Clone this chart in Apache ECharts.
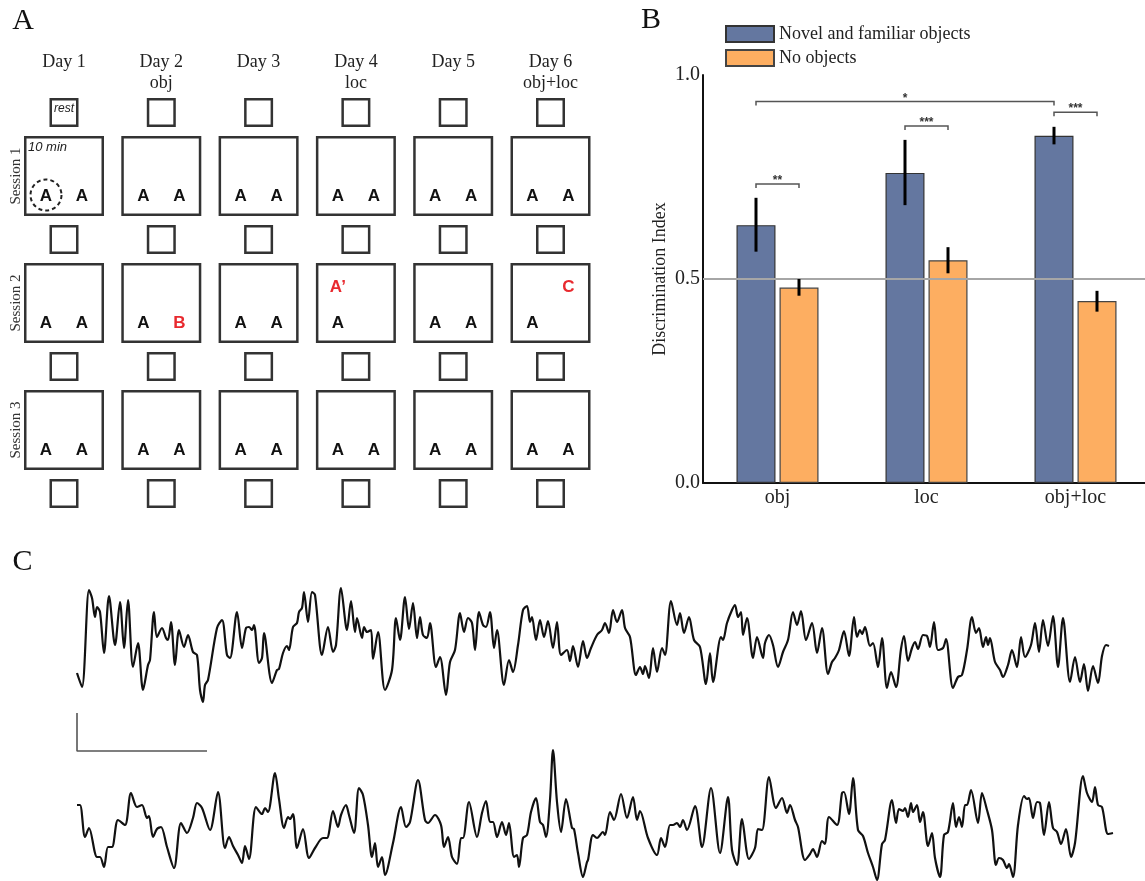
<!DOCTYPE html>
<html>
<head>
<meta charset="utf-8">
<style>html,body{margin:0;padding:0;background:#fff}#chart{width:1145px;height:881px}</style>
<script src="https://cdn.jsdelivr.net/npm/echarts@6/dist/echarts.min.js"></script>
</head>
<body>
<div id="chart"></div>
<script>
// ---------- Panel A: protocol schematic ----------
const days = ['Day 1', 'Day 2', 'Day 3', 'Day 4', 'Day 5', 'Day 6'];
const dayTasks = ['', 'obj', '', 'loc', '', 'obj+loc'];
const sessions = ['Session 1', 'Session 2', 'Session 3'];
const restBoxesPerDay = 4;
const familiarObject = 'A';
const novelObjects = [
  { day: 'Day 2', session: 'Session 2', letter: 'B', slot: 'right' },
  { day: 'Day 4', session: 'Session 2', letter: 'A\u2019', slot: 'topLeft' },
  { day: 'Day 6', session: 'Session 2', letter: 'C', slot: 'topRight' }
];
const restLabel = 'rest';
const sessionDuration = '10 min';

// ---------- Panel B: discrimination index ----------
const conditions = ['obj', 'loc', 'obj+loc'];
const seriesNames = ['Novel and familiar objects', 'No objects'];
const objectsMean = [0.632, 0.760, 0.851];
const noObjectsMean = [0.479, 0.546, 0.446];
const objectsErr = [[0.567, 0.699], [0.681, 0.841], [0.830, 0.873]];
const noObjectsErr = [[0.459, 0.500], [0.514, 0.578], [0.420, 0.471]];
const chanceLevel = 0.5;
const yTicks = [0, 0.5, 1.0];
const sigBrackets = [
  { from: [0, 0], to: [0, 1], y: 0.733, label: '**' },
  { from: [1, 0], to: [1, 1], y: 0.875, label: '***' },
  { from: [2, 0], to: [2, 1], y: 0.909, label: '***' },
  { from: [0, 0], to: [2, 0], y: 0.935, label: '*' }
];

// ---------- Panel C: example traces [time, amplitude] ----------
const trace1 = [[0,-28],[5,-42],[12,55],[15,47],[18,28],[20,38],[23,33],[27,-8],[32,49],[38,0],[43,43],[47,-3],[51,45],[56,-22],[61,2],[66,-45],[71,-20],[73,-15],[77,33],[80,8],[85,17],[89,7],[91,5],[94,23],[98,-20],[102,15],[107,-2],[111,10],[116,-7],[120,-10],[123,-45],[126,-57],[128,-40],[131,-35],[140,17],[145,25],[150,-10],[153,-13],[160,33],[165,-3],[169,17],[172,18],[175,15],[177,20],[182,-18],[185,-13],[187,12],[195,-38],[200,-25],[202,-24],[206,-8],[210,-1],[212,-5],[216,18],[220,22],[222,33],[225,37],[227,53],[231,23],[235,53],[238,50],[245,-10],[251,18],[256,-7],[259,0],[264,57],[270,15],[274,44],[278,13],[280,27],[285,7],[287,18],[290,13],[294,15],[296,-14],[301,13],[308,-45],[315,-25],[319,27],[323,5],[328,48],[332,16],[336,42],[340,7],[343,28],[346,10],[350,7],[353,22],[359,-22],[363,-12],[369,-50],[373,-17],[378,-5],[383,32],[387,13],[391,27],[395,22],[398,-5],[402,33],[406,20],[409,18],[413,33],[417,-3],[420,15],[427,-40],[432,-15],[436,-27],[441,0],[446,35],[450,39],[453,23],[455,28],[459,5],[463,25],[467,8],[471,24],[476,-3],[480,23],[484,-10],[490,-5],[493,-16],[496,-1],[501,-22],[506,4],[510,-13],[514,-3],[520,10],[525,15],[528,22],[532,12],[536,35],[540,23],[545,35],[548,17],[553,8],[559,-30],[563,-22],[566,-29],[568,-21],[572,-33],[576,-3],[580,-27],[585,-3],[588,-10],[594,44],[600,20],[603,32],[607,12],[612,28],[617,5],[623,-2],[629,-39],[633,-8],[636,-37],[644,8],[646,5],[650,22],[655,35],[658,40],[661,28],[664,33],[666,10],[670,27],[676,-13],[680,8],[686,-13],[688,2],[692,10],[696,0],[701,-22],[706,-7],[711,5],[716,33],[720,20],[724,34],[729,5],[735,22],[740,-8],[745,17],[751,-29],[755,-17],[758,-13],[762,-5],[767,14],[772,-11],[777,28],[780,8],[783,15],[785,11],[788,18],[793,-1],[796,2],[801,-22],[805,7],[810,-43],[814,-27],[819,-42],[824,-4],[827,9],[831,-16],[835,-3],[838,3],[841,-4],[846,10],[850,9],[853,-2],[857,23],[861,-5],[866,-3],[869,6],[876,-43],[881,-32],[885,-30],[890,-5],[895,28],[899,12],[902,17],[906,-2],[909,8],[911,0],[913,7],[918,-17],[923,-25],[926,-32],[931,-20],[935,-5],[940,-22],[944,8],[948,-12],[954,0],[958,22],[962,-7],[966,25],[971,-1],[976,29],[981,-22],[986,27],[993,-37],[998,-12],[1003,-37],[1007,-19],[1011,-46],[1016,-21],[1021,-38],[1025,-11],[1029,0],[1032,-1]];
const trace2 = [[0,20],[3,20],[8,-12],[12,-3],[20,-32],[23,-32],[27,-42],[31,-22],[35,-22],[41,5],[48,0],[54,32],[60,18],[65,20],[70,7],[72,9],[76,-12],[80,-4],[84,-2],[90,-22],[97,-43],[104,2],[110,-8],[116,7],[120,22],[125,17],[133,-5],[141,33],[148,-23],[152,-12],[156,-21],[161,-30],[165,-38],[168,-21],[172,-34],[179,18],[185,11],[188,17],[191,13],[198,52],[202,26],[207,-3],[211,8],[213,6],[216,11],[220,-23],[226,-4],[232,-33],[238,-23],[246,-13],[250,-13],[256,14],[261,-2],[264,10],[269,20],[272,10],[277,-8],[282,37],[286,30],[291,0],[295,-32],[298,-18],[301,-42],[305,-32],[308,-50],[316,-18],[324,18],[329,-2],[333,3],[341,45],[348,5],[351,2],[358,10],[364,0],[367,-22],[371,-12],[375,-32],[380,-39],[384,-13],[386,-13],[392,23],[400,-12],[405,12],[409,24],[413,3],[416,3],[420,-12],[425,3],[429,-10],[432,2],[437,-32],[440,-30],[442,-42],[446,-13],[450,-10],[454,13],[459,27],[463,3],[466,0],[469,-12],[473,25],[476,75],[480,23],[484,-7],[489,26],[495,-3],[497,-4],[501,-28],[506,-52],[510,-37],[511,-35],[516,-10],[520,-13],[526,-7],[528,-10],[533,13],[537,5],[544,31],[550,7],[556,28],[560,5],[563,14],[571,-13],[580,-30],[584,-13],[588,-22],[593,0],[596,0],[600,2],[603,-2],[606,5],[610,-5],[618,19],[625,-22],[634,37],[643,-28],[651,28],[655,-25],[660,-40],[665,6],[672,-34],[678,-23],[681,-4],[685,-5],[692,48],[699,17],[705,27],[710,12],[713,20],[718,5],[721,-2],[728,-35],[733,-29],[736,-24],[740,-32],[745,-16],[748,-19],[752,8],[760,0],[765,32],[767,33],[772,11],[776,47],[781,-5],[786,-11],[791,-28],[796,-42],[800,-55],[805,-19],[808,-15],[815,25],[819,2],[822,16],[826,14],[828,17],[831,8],[834,22],[836,13],[840,20],[843,3],[846,13],[851,-21],[855,-8],[858,-33],[863,-52],[867,-10],[871,-7],[876,22],[879,-2],[882,8],[885,-2],[888,20],[890,20],[894,35],[901,2],[905,32],[910,15],[915,-5],[919,-40],[922,-33],[926,-35],[930,-43],[932,-39],[936,-52],[941,0],[947,29],[950,26],[952,27],[956,7],[960,23],[963,22],[967,-10],[972,23],[976,-3],[980,-7],[984,-19],[989,-4],[994,-32],[998,-18],[1006,49],[1010,32],[1015,23],[1018,38],[1021,20],[1025,18],[1031,-9],[1036,-8]];
const scaleBarTime = [0, 0, 130];
const scaleBarAmp = [-68, -106, -106];

// ---------- build tables ----------
const SERIF = "'Liberation Serif', 'Times New Roman', serif";
const SANS = "'Liberation Sans', Arial, sans-serif";
const STROKE = '#333';

const boxItems = [];
days.forEach((d, di) => {
  for (let r = 0; r < restBoxesPerDay; r++) boxItems.push([di, r, 0]);
  sessions.forEach((s, si) => boxItems.push([di, si + 0.5, 1]));
});

const letterItems = [];
days.forEach((d, di) => {
  sessions.forEach((s, si) => {
    const nov = novelObjects.find(n => n.day === d && n.session === s);
    letterItems.push({ day: di, row: si + 0.5, letter: familiarObject, slot: 'left', novel: false });
    if (nov) letterItems.push({ day: di, row: si + 0.5, letter: nov.letter, slot: nov.slot, novel: true });
    else letterItems.push({ day: di, row: si + 0.5, letter: familiarObject, slot: 'right', novel: false });
  });
});
const slotOffset = { left: [-18, 20], right: [18, 20], topLeft: [-18, -16], topRight: [18, -16] };

const errItems = [];
objectsErr.forEach((e, i) => errItems.push([i, 0, e[0], e[1]]));
noObjectsErr.forEach((e, i) => errItems.push([i, 1, e[0], e[1]]));
const BAR_OFFSET = 21.5;

const chart = echarts.init(document.getElementById('chart'), null, { renderer: 'canvas' });

const option = {
  backgroundColor: '#ffffff',
  animation: false,
  graphic: [
    { type: 'text', x: 23, y: 21, style: { text: 'A', font: '30px ' + SERIF, fill: '#111', align: 'center', verticalAlign: 'middle' } },
    { type: 'text', x: 651, y: 20, style: { text: 'B', font: '30px ' + SERIF, fill: '#111', align: 'center', verticalAlign: 'middle' } },
    { type: 'text', x: 22.5, y: 562, style: { text: 'C', font: '30px ' + SERIF, fill: '#111', align: 'center', verticalAlign: 'middle' } }
  ],
  legend: {
    left: 725, top: 25, orient: 'vertical', itemWidth: 48, itemHeight: 16, itemGap: 6, padding: 0,
    icon: 'rect', data: seriesNames, selectedMode: false,
    textStyle: { fontFamily: SERIF, fontSize: 18, color: '#222' }
  },
  grid: [
    { left: 15.35, top: 49, width: 583.8, height: 508, outerBoundsMode: 'none' },
    { left: 703, top: 75, width: 447, height: 408, outerBoundsMode: 'none' },
    { left: 77, top: 575, width: 1040, height: 180, outerBoundsMode: 'none' },
    { left: 77, top: 745, width: 1040, height: 160, outerBoundsMode: 'none' }
  ],
  xAxis: [
    { gridIndex: 0, type: 'value', min: -0.5, max: 5.5, show: false },
    { gridIndex: 1, type: 'category', data: conditions,
      axisLine: { show: true, lineStyle: { color: '#111', width: 2 } },
      axisTick: { show: false },
      axisLabel: { fontFamily: SERIF, fontSize: 20, color: '#222', margin: 5 },
      splitLine: { show: false } },
    { gridIndex: 2, type: 'value', min: 0, max: 1040, show: false },
    { gridIndex: 3, type: 'value', min: 0, max: 1040, show: false }
  ],
  yAxis: [
    { gridIndex: 0, type: 'value', min: -0.5, max: 3.5, inverse: true, show: false },
    { gridIndex: 1, type: 'value', min: yTicks[0], max: yTicks[yTicks.length - 1], interval: yTicks[1] - yTicks[0],
      name: 'Discrimination Index', nameLocation: 'middle', nameGap: 34,
      nameTextStyle: { fontFamily: SERIF, fontSize: 18, color: '#222' },
      axisLine: { show: true, lineStyle: { color: '#111', width: 2 } },
      axisTick: { show: false },
      axisLabel: { fontFamily: SERIF, fontSize: 20, color: '#222', margin: 3, formatter: v => v.toFixed(1) },
      splitLine: { show: false } },
    { gridIndex: 2, type: 'value', min: -110, max: 70, show: false },
    { gridIndex: 3, type: 'value', min: -80, max: 80, show: false }
  ],
  series: [
    {
      type: 'custom', xAxisIndex: 0, yAxisIndex: 0, silent: true, data: boxItems,
      renderItem: (params, api) => {
        const c = api.coord([api.value(0), api.value(1)]);
        const sz = api.value(2) ? 77.5 : 26.5;
        return { type: 'rect', shape: { x: c[0] - sz / 2, y: c[1] - sz / 2, width: sz, height: sz },
          style: { fill: 'none', stroke: STROKE, lineWidth: 2.5 } };
      }
    },
    {
      type: 'custom', xAxisIndex: 0, yAxisIndex: 0, silent: true,
      data: letterItems.map(it => [it.day, it.row]),
      renderItem: (params, api) => {
        const it = letterItems[params.dataIndex];
        const c = api.coord([api.value(0), api.value(1)]);
        const o = slotOffset[it.slot];
        return { type: 'text', x: c[0] + o[0], y: c[1] + o[1],
          style: { text: it.letter, font: 'bold 17px ' + SANS, fill: it.novel ? '#e8292e' : '#111', align: 'center', verticalAlign: 'middle' } };
      }
    },
    {
      type: 'custom', xAxisIndex: 0, yAxisIndex: 0, silent: true,
      data: [[0, 0], [0, 0.5]],
      renderItem: (params, api) => {
        const c = api.coord([api.value(0), api.value(1)]);
        if (params.dataIndex === 0) {
          return { type: 'text', x: c[0], y: c[1] - 4,
            style: { text: restLabel, font: 'italic 12px ' + SANS, fill: '#222', align: 'center', verticalAlign: 'middle' } };
        }
        const o = slotOffset.left;
        return { type: 'group', children: [
          { type: 'text', x: c[0] - 36, y: c[1] - 29,
            style: { text: sessionDuration, font: 'italic 13px ' + SANS, fill: '#222', align: 'left', verticalAlign: 'middle' } },
          { type: 'circle', shape: { cx: c[0] + o[0], cy: c[1] + o[1] - 1, r: 15.5 },
            style: { fill: 'none', stroke: '#222', lineWidth: 2, lineDash: [4, 3] } }
        ] };
      }
    },
    {
      type: 'custom', xAxisIndex: 0, yAxisIndex: 0, silent: true,
      data: days.map((d, i) => [i]),
      renderItem: (params, api) => {
        const i = params.dataIndex;
        const c1 = api.coord([i, -0.394]);
        const c2 = api.coord([i, -0.228]);
        return { type: 'group', children: [
          { type: 'text', x: c1[0], y: c1[1], style: { text: days[i], font: '18px ' + SERIF, fill: '#222', align: 'center', verticalAlign: 'middle' } },
          { type: 'text', x: c2[0], y: c2[1], style: { text: dayTasks[i], font: '18px ' + SERIF, fill: '#222', align: 'center', verticalAlign: 'middle' } }
        ] };
      }
    },
    {
      type: 'custom', xAxisIndex: 0, yAxisIndex: 0, silent: true,
      data: sessions.map((s, i) => [-0.5, i + 0.5]),
      renderItem: (params, api) => {
        const c = api.coord([api.value(0), api.value(1)]);
        return { type: 'text', x: c[0] + 1, y: c[1], rotation: Math.PI / 2,
          style: { text: sessions[params.dataIndex], font: '15px ' + SERIF, fill: '#333', align: 'center', verticalAlign: 'middle' } };
      }
    },
    {
      name: seriesNames[0], type: 'bar', xAxisIndex: 1, yAxisIndex: 1, data: objectsMean,
      barWidth: 39, barGap: '10.3%',
      itemStyle: { color: '#6477a0', borderColor: '#333', borderWidth: 1.2 }
    },
    {
      name: seriesNames[1], type: 'bar', xAxisIndex: 1, yAxisIndex: 1, data: noObjectsMean,
      barWidth: 39, barGap: '10.3%',
      itemStyle: { color: '#fdae61', borderColor: '#444', borderWidth: 1.2 },
      markLine: { silent: true, symbol: 'none', label: { show: false },
        lineStyle: { color: '#a6a6a6', width: 2, type: 'solid' },
        data: [{ yAxis: chanceLevel }] }
    },
    {
      type: 'custom', xAxisIndex: 1, yAxisIndex: 1, silent: true, z: 5, data: errItems,
      renderItem: (params, api) => {
        const lo = api.coord([api.value(0), api.value(2)]);
        const hi = api.coord([api.value(0), api.value(3)]);
        const x = lo[0] + (api.value(1) ? BAR_OFFSET : -BAR_OFFSET);
        return { type: 'line', shape: { x1: x, y1: lo[1], x2: x, y2: hi[1] }, style: { stroke: '#000', lineWidth: 3 } };
      }
    },
    {
      type: 'custom', xAxisIndex: 1, yAxisIndex: 1, silent: true, z: 5,
      data: sigBrackets.map(b => [b.from[0], b.to[0], b.y]),
      renderItem: (params, api) => {
        const b = sigBrackets[params.dataIndex];
        const p1 = api.coord([b.from[0], b.y]);
        const p2 = api.coord([b.to[0], b.y]);
        const x1 = p1[0] + (b.from[1] ? BAR_OFFSET : -BAR_OFFSET);
        const x2 = p2[0] + (b.to[1] ? BAR_OFFSET : -BAR_OFFSET);
        const y = p1[1];
        return { type: 'group', children: [
          { type: 'polyline', shape: { points: [[x1, y + 4], [x1, y], [x2, y], [x2, y + 4]] },
            style: { fill: 'none', stroke: '#555', lineWidth: 1.5 } },
          { type: 'text', x: (x1 + x2) / 2, y: y - 3,
            style: { text: b.label, font: 'bold 12px ' + SANS, fill: '#333', align: 'center', verticalAlign: 'middle' } }
        ] };
      }
    },
    {
      type: 'line', xAxisIndex: 2, yAxisIndex: 2, data: trace1, showSymbol: false, smooth: 0.3,
      lineStyle: { color: '#111', width: 2.2 }, silent: true
    },
    {
      type: 'line', xAxisIndex: 3, yAxisIndex: 3, data: trace2, showSymbol: false, smooth: 0.3,
      lineStyle: { color: '#111', width: 2.2 }, silent: true
    },
    {
      type: 'line', xAxisIndex: 2, yAxisIndex: 2, data: scaleBarTime.map((t, i) => [t, scaleBarAmp[i]]),
      showSymbol: false, lineStyle: { color: '#555', width: 1.6 }, silent: true
    }
  ]
};
chart.setOption(option);
</script>
</body>
</html>
